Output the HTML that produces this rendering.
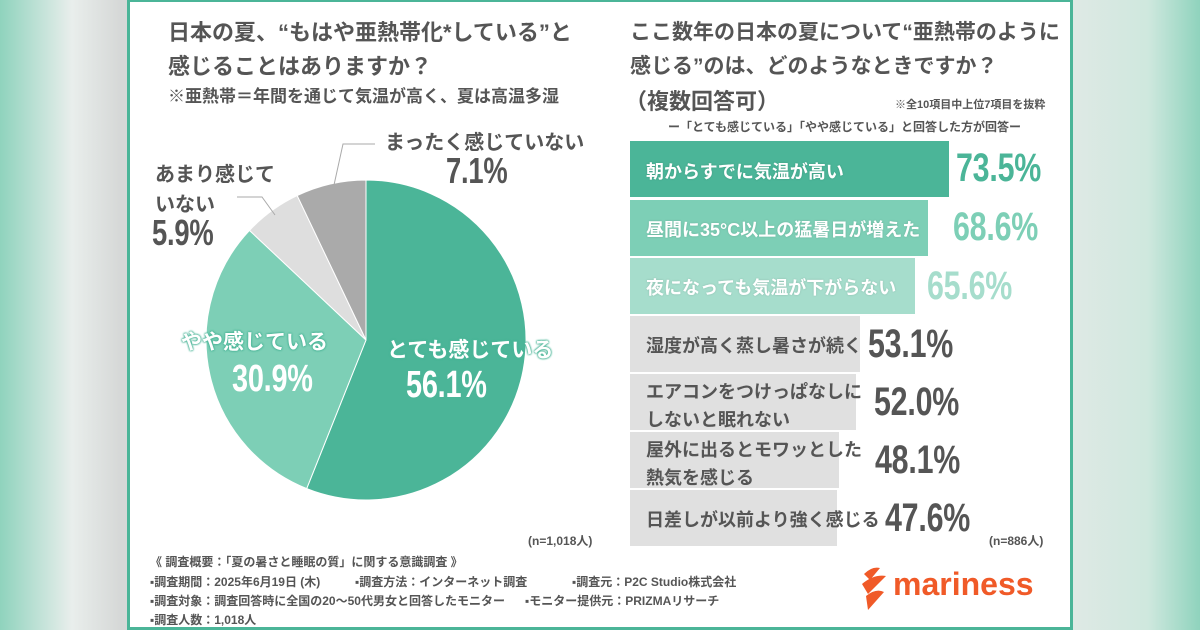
<!DOCTYPE html>
<html><head><meta charset="utf-8"><style>
*{margin:0;padding:0;box-sizing:border-box}
body{width:1200px;height:630px;overflow:hidden;position:relative;background:linear-gradient(90deg,#8fd3bd 0%,#e9eeec 6%,#d6d8d7 10%,#e4e6e5 100%);font-family:"Liberation Sans","Noto Sans CJK JP",sans-serif;color:#555}
.bgr{position:absolute;right:0;top:0;width:130px;height:630px;background:linear-gradient(90deg,#dfe9e5,#cfe8de 60%,#8fd3bd)}
.card{position:absolute;left:127px;top:0;width:946px;height:630px;background:#fff;border:3px solid #4bb598;border-top-width:2px}
.t{position:absolute;white-space:nowrap;font-weight:bold}
.bar{position:absolute;left:630px;height:56px}
.bl{position:absolute;left:646px;font-size:18px;font-weight:bold;white-space:nowrap;color:#fff;text-shadow:0 0 2px rgba(0,0,0,.15)}
.bl.g{color:#555;text-shadow:none}
.v{position:absolute;font-weight:bold;font-size:40px;white-space:nowrap;transform:scaleX(0.76);transform-origin:left top;letter-spacing:-0.3px}
.f{position:absolute;font-size:12px;white-space:nowrap;color:#555;font-weight:bold}
.o{text-shadow:0 0 2px #4bb598,0 0 2px #4bb598,0 0 2px #4bb598}
</style></head><body>
<div class="bgr"></div>
<div class="card"></div>
<div class="t" style="left:168px;top:16px;font-size:22px;line-height:34px;color:#555">日本の夏、“もはや亜熱帯化*している”と<br>感じることはありますか？</div>
<div class="t" style="left:168px;top:82px;font-size:17px;color:#555">※亜熱帯＝年間を通じて気温が高く、夏は高温多湿</div>
<svg style="position:absolute;left:0;top:0" width="1200" height="630">
<path d="M366,340 L366,180 A160,160 0 1 1 306.7,488.6 Z" fill="#4bb598" stroke="#fff" stroke-width="1"/>
<path d="M366,340 L306.7,488.6 A160,160 0 0 1 249.5,230.4 Z" fill="#7dcfb6" stroke="#fff" stroke-width="1"/>
<path d="M366,340 L249.5,230.4 A160,160 0 0 1 297.2,195.6 Z" fill="#dedede" stroke="#fff" stroke-width="1"/>
<path d="M366,340 L297.2,195.6 A160,160 0 0 1 366,180 Z" fill="#aaaaaa" stroke="#fff" stroke-width="1"/>
<polyline points="334,185 343,144 375,144" fill="none" stroke="#aaa" stroke-width="1"/>
<polyline points="237,197 262,197 275,215" fill="none" stroke="#aaa" stroke-width="1"/>
</svg>
<div class="t" style="left:385px;top:126px;font-size:20px;color:#555">まったく感じていない</div>
<div class="v" style="left:446px;top:150px;font-size:36px;color:#555">7.1%</div>
<div class="t" style="left:155px;top:160px;font-size:20px;line-height:30px;color:#555">あまり感じて<br>いない</div>
<div class="v" style="left:152px;top:212px;font-size:36px;color:#555">5.9%</div>
<div class="t o" style="left:181px;top:326px;font-size:21px;color:#fff">やや感じている</div>
<div class="v" style="left:232px;top:358px;font-size:38px;color:#fff">30.9%</div>
<div class="t o" style="left:387px;top:334px;font-size:21px;color:#fff">とても感じている</div>
<div class="v" style="left:406px;top:364px;font-size:38px;color:#fff">56.1%</div>
<div class="f" style="left:528px;top:532px">(n=1,018人)</div>
<div class="t" style="left:630px;top:16px;font-size:21px;line-height:34px;color:#555">ここ数年の日本の夏について“亜熱帯のように<br>感じる”のは、どのようなときですか？</div>
<div class="t" style="left:625px;top:84px;font-size:22px;color:#555">（複数回答可）</div>
<div class="f" style="left:895px;top:96px;font-size:11px">※全10項目中上位7項目を抜粋</div>
<div class="f" style="left:668px;top:118px">ー「とても感じている」「やや感じている」と回答した方が回答ー</div>
<div class="bar" style="top:141px;width:319px;background:#4bb598"></div>
<div class="bar" style="top:200px;width:298px;background:#7dcfb6"></div>
<div class="bar" style="top:258px;width:285px;background:#a6ddcc"></div>
<div class="bar" style="top:316px;width:230px;background:#e0e0e0"></div>
<div class="bar" style="top:374px;width:226px;background:#e0e0e0"></div>
<div class="bar" style="top:432px;width:209px;background:#e0e0e0"></div>
<div class="bar" style="top:490px;width:207px;background:#e0e0e0"></div>
<div class="bl" style="top:158px">朝からすでに気温が高い</div>
<div class="bl" style="top:216px">昼間に35°C以上の猛暑日が増えた</div>
<div class="bl" style="top:274px">夜になっても気温が下がらない</div>
<div class="bl g" style="top:332px">湿度が高く蒸し暑さが続く</div>
<div class="bl g" style="top:378px;line-height:28px">エアコンをつけっぱなしに<br>しないと眠れない</div>
<div class="bl g" style="top:436px;line-height:28px">屋外に出るとモワッとした<br>熱気を感じる</div>
<div class="bl g" style="top:506px">日差しが以前より強く感じる</div>
<div class="v" style="left:956px;top:146px;color:#4bb598">73.5%</div>
<div class="v" style="left:953px;top:205px;color:#7dcfb6">68.6%</div>
<div class="v" style="left:927px;top:264px;color:#a6ddcc">65.6%</div>
<div class="v" style="left:868px;top:322px;color:#555">53.1%</div>
<div class="v" style="left:874px;top:380px;color:#555">52.0%</div>
<div class="v" style="left:875px;top:438px;color:#555">48.1%</div>
<div class="v" style="left:885px;top:496px;color:#555">47.6%</div>
<div class="f" style="left:989px;top:532px">(n=886人)</div>
<div class="f" style="left:150px;top:553px">《 調査概要：「夏の暑さと睡眠の質」に関する意識調査 》</div>
<div class="f" style="left:150px;top:573px">▪調査期間：2025年6月19日 (木)</div>
<div class="f" style="left:355px;top:573px">▪調査方法：インターネット調査</div>
<div class="f" style="left:572px;top:573px">▪調査元：P2C Studio株式会社</div>
<div class="f" style="left:150px;top:592px">▪調査対象：調査回答時に全国の20〜50代男女と回答したモニター</div>
<div class="f" style="left:525px;top:592px">▪モニター提供元：PRIZMAリサーチ</div>
<div class="f" style="left:150px;top:611px">▪調査人数：1,018人</div>
<svg style="position:absolute;left:858px;top:566px" width="32" height="46"><path d="M6,8 Q14,0 22,2 L12,14 Z M4,18 Q16,8 28,10 L10,28 Z M8,30 Q18,22 26,26 L10,44 Z" fill="#f05a28"/></svg>
<div class="t" style="left:893px;top:566px;font-size:32px;color:#f05a28;font-family:'Liberation Sans',sans-serif">mariness</div>
</body></html>
